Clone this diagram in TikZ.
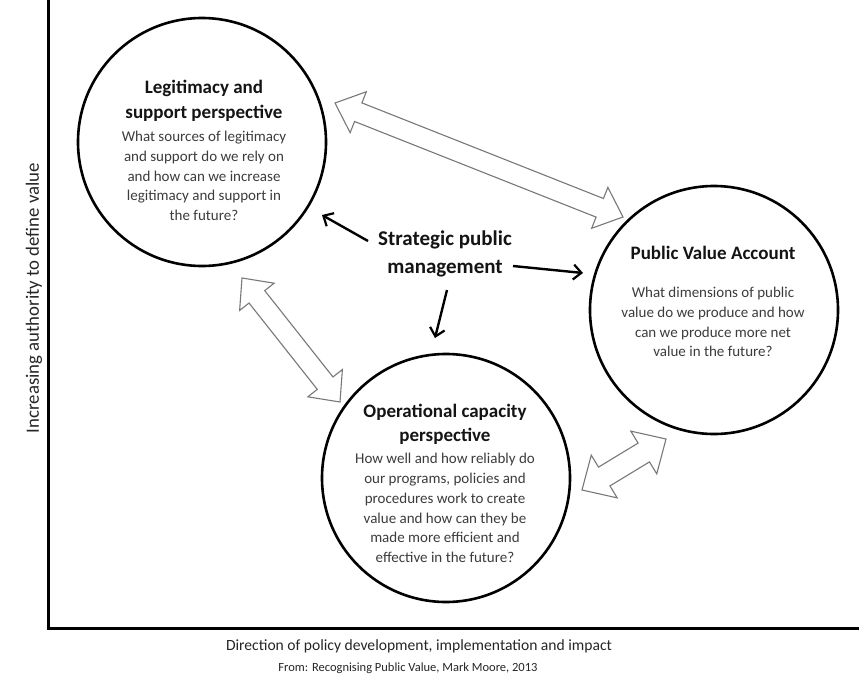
\documentclass[tikz,border=0pt]{standalone}
\usepackage{fontspec}
\setmainfont{Carlito}
\usetikzlibrary{calc,arrows.meta}
\definecolor{bodygray}{RGB}{60,60,60}
\definecolor{titleblack}{RGB}{20,20,20}
\definecolor{hollowgray}{RGB}{120,120,120}
\newcommand\hollowarrow[5]{%
  \path ($(#1)!#5!(#2)$) coordinate (h1) ($(#2)!#5!(#1)$) coordinate (h2);
  \draw[hollow] (#1) -- ($(h1)!#4!90:(#2)$) -- ($(h1)!#3!90:(#2)$)
    -- ($(h2)!#3!-90:(#1)$) -- ($(h2)!#4!-90:(#1)$) -- (#2)
    -- ($(h2)!#4!90:(#1)$) -- ($(h2)!#3!90:(#1)$)
    -- ($(h1)!#3!-90:(#2)$) -- ($(h1)!#4!-90:(#2)$) -- cycle;}
\begin{document}
\begin{tikzpicture}[x=1pt,y=-1pt,
  circ/.style={circle,draw=black,line width=2.6pt,minimum size=248pt,inner sep=0pt},
  ttl/.style={align=center,text=titleblack,font=\fontsize{19}{25}\selectfont\bfseries,inner sep=0pt},
  body/.style={align=center,text=bodygray,font=\fontsize{15}{19.8}\selectfont,inner sep=0pt},
  hollow/.style={draw=hollowgray,line width=1.1pt,fill=white,line join=miter},
  blk/.style={line width=2.4pt,-{Straight Barb[length=8pt,width=15pt,line width=2.2pt]}},
  axis/.style={line width=3pt,draw=black},
  lbl/.style={text=black!85,inner sep=0pt}]
\useasboundingbox (0,0) rectangle (859,677);
\fill[white] (0,0) rectangle (859,677);

% axes
\coordinate (top) at (48,0);
\coordinate (origin) at (48,628);
\coordinate (right) at (859,628);
\draw[axis] (top) -- (origin) -- (right);
\node[lbl,rotate=90,font=\fontsize{18.8}{22}\selectfont] (ylab) at (34,298) {Increasing authority to define value};
\node[lbl,font=\fontsize{15.6}{19}\selectfont] (xlab) at (419,646) {Direction of policy development, implementation and impact};
\node[lbl,font=\fontsize{12.5}{14}\selectfont] (src) at (408,668) {From: Recognising Public Value, Mark Moore, 2013};

% circles
\node[circ] (L) at (202,142) {};
\node[circ] (P) at (714,310) {};
\node[circ] (O) at (446,478) {};

% texts
\node[ttl] (Lt) at (204,100.5) {Legitimacy and\\support perspective};
\node[body] (Lb) at (204,176) {What sources of legitimacy\\and support do we rely on\\and how can we increase\\legitimacy and support in\\the future?};
\node[ttl] (Pt) at (713,253) {Public Value Account};
\node[body] (Pb) at (713,322) {What dimensions of public\\value do we produce and how\\can we produce more net\\value in the future?};
\node[ttl,font=\fontsize{19}{24}\selectfont\bfseries] (Ot) at (445,424) {Operational capacity\\perspective};
\node[body] (Ob) at (445,508) {How well and how reliably do\\our programs, policies and\\procedures work to create\\value and how can they be\\made more efficient and\\effective in the future?};
\node[ttl,font=\fontsize{21}{28}\selectfont\bfseries] (S) at (445,254) {Strategic public\\management};

% black arrows
\coordinate (s1) at (368,241);
\coordinate (e1) at (322,215);
\coordinate (s2) at (513,266);
\coordinate (e2) at (583,273);
\coordinate (s3) at (447,290);
\coordinate (e3) at (435,338);
\draw[blk] (s1) -- (e1);
\draw[blk] (s2) -- (e2);
\draw[blk] (s3) -- (e3);

% hollow double arrows
\coordinate (a1) at (335,103);
\coordinate (a2) at (623,217);
\coordinate (b1) at (242,278);
\coordinate (b2) at (340,402);
\coordinate (c1) at (582,490);
\coordinate (c2) at (666,439);
\hollowarrow{a1}{a2}{10pt}{22pt}{25pt}
\hollowarrow{b1}{b2}{10pt}{22pt}{24pt}
\hollowarrow{c1}{c2}{11pt}{25pt}{26pt}
\end{tikzpicture}
\end{document}
